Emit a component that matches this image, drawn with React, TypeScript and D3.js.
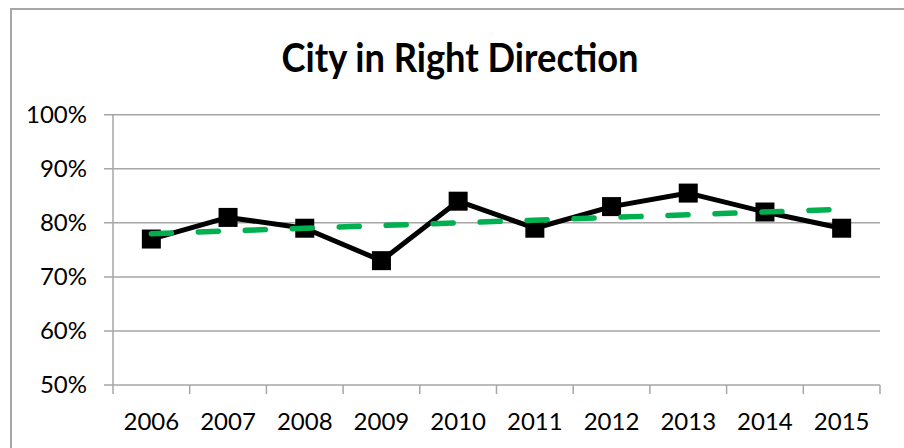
import React from "react";
import * as d3 from "d3";

const years = ["2006", "2007", "2008", "2009", "2010", "2011", "2012", "2013", "2014", "2015"];
const values = [77, 81, 79, 73, 84, 79, 83, 85.5, 82, 79];
const yTicks = [50, 60, 70, 80, 90, 100];
const title = "City in Right Direction";

const W = 904;
const H = 448;
const plot = { left: 113, right: 880, top: 114.7, bottom: 385 };

export default function App() {
  const x = d3.scaleBand<string>().domain(years).range([plot.left, plot.right]).padding(0);
  const y = d3.scaleLinear().domain([50, 100]).range([plot.bottom, plot.top]);
  const cx = (yr: string) => (x(yr) as number) + x.bandwidth() / 2;

  // linear trendline (least squares)
  const idx = values.map((_, i) => i);
  const mx = d3.mean(idx) as number;
  const my = d3.mean(values) as number;
  const sxy = d3.sum(idx, (i) => (i - mx) * (values[i] - my));
  const sxx = d3.sum(idx, (i) => (i - mx) * (i - mx));
  const slope = sxy / sxx;
  const icpt = my - slope * mx;
  const trend: [number, number][] = [
    [cx(years[0]), y(icpt)],
    [cx(years[years.length - 1]), y(icpt + slope * (years.length - 1))],
  ];

  const line = d3
    .line<number>()
    .x((_, i) => cx(years[i]))
    .y((d) => y(d));

  const grid = "#A6A6A6";
  const ms = 19;

  return (
    <svg
      width={W}
      height={H}
      style={{ position: "absolute", left: 0, top: 0, background: "#fff" }}
    >
      <rect x={0} y={0} width={W} height={H} fill="#fff" />
      {/* chart frame */}
      <path d={`M11,${H + 5}V9H${W + 5}`} fill="none" stroke={grid} strokeWidth={2} />
      {/* title */}
      <text
        x={460}
        y={71.5}
        textAnchor="middle"
        fontFamily="Lato, 'Open Sans', sans-serif"
        fontWeight="bold"
        fontSize={41}
        textLength={357}
        lengthAdjust="spacingAndGlyphs"
        fill="#000"
      >
        {title}
      </text>
      {/* gridlines and y ticks */}
      {yTicks.map((t) => (
        <g key={t}>
          <line x1={plot.left - 9} x2={plot.right} y1={y(t)} y2={y(t)} stroke={grid} strokeWidth={1.5} />
          <text
            x={87}
            y={y(t)}
            dy="0.35em"
            textAnchor="end"
            fontFamily="Lato, 'Open Sans', sans-serif"
            fontSize={24}
            fill="#000"
          >
            {t}%
          </text>
        </g>
      ))}
      {/* y axis line */}
      <line x1={plot.left} x2={plot.left} y1={plot.top} y2={plot.bottom} stroke={grid} strokeWidth={1.5} />
      {/* x ticks */}
      {years.concat(["end"]).map((yr, i) => {
        const xx = i < years.length ? (x(yr) as number) : plot.right;
        return <line key={"t" + i} x1={xx} x2={xx} y1={plot.bottom} y2={plot.bottom + 9} stroke={grid} strokeWidth={1.5} />;
      })}
      {years.map((yr) => (
        <text
          key={yr}
          x={cx(yr)}
          y={429.5}
          textAnchor="middle"
          fontFamily="Lato, 'Open Sans', sans-serif"
          fontSize={24}
          fill="#000"
        >
          {yr}
        </text>
      ))}
      {/* series line */}
      <path d={line(values) as string} fill="none" stroke="#000" strokeWidth={5} strokeLinejoin="round" />
      {values.map((v, i) => (
        <rect
          key={"m" + i}
          x={cx(years[i]) - ms / 2}
          y={y(v) - ms / 2}
          width={ms}
          height={ms}
          fill="#000"
        />
      ))}
      {/* trendline */}
      <line
        x1={trend[0][0]}
        y1={trend[0][1]}
        x2={trend[1][0]}
        y2={trend[1][1]}
        stroke="#00B050"
        strokeWidth={5.5}
        strokeDasharray="20 27"
        strokeLinecap="round"
      />
    </svg>
  );
}
